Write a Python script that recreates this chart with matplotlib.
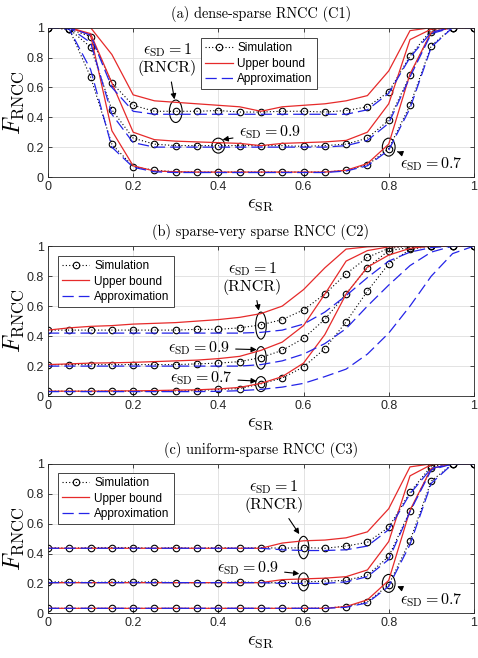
import numpy as np
import matplotlib
matplotlib.use("Agg")
import matplotlib.pyplot as plt
from matplotlib.patches import Ellipse

plt.rcParams['mathtext.fontset'] = 'cm'
plt.rcParams['font.family'] = ['Liberation Sans', 'DejaVu Sans']
plt.rcParams['axes.formatter.use_mathtext'] = True

# eps_SR grid
x = [0.00, 0.05, 0.10, 0.15, 0.20, 0.25, 0.30, 0.35, 0.40, 0.45, 0.50,
     0.55, 0.60, 0.65, 0.70, 0.75, 0.80, 0.85, 0.90, 0.95, 1.00]

# (a) dense-sparse RNCC (C1)
sim_a_10 = [1.00, 0.99, 0.94, 0.63, 0.48, 0.44, 0.44, 0.44, 0.445, 0.435, 0.435,
            0.44, 0.44, 0.435, 0.445, 0.47, 0.57, 0.81, 0.985, 1.00, 1.00]
sim_a_09 = [1.00, 0.99, 0.87, 0.45, 0.26, 0.22, 0.21, 0.21, 0.21, 0.21, 0.21,
            0.21, 0.205, 0.21, 0.22, 0.26, 0.38, 0.68, 0.97, 1.00, 1.00]
sim_a_07 = [1.00, 0.99, 0.67, 0.22, 0.07, 0.045, 0.035, 0.033, 0.033, 0.033, 0.033,
            0.033, 0.033, 0.033, 0.045, 0.08, 0.19, 0.48, 0.88, 1.00, 1.00]
ub_a_10 = [1.00, 1.00, 1.00, 0.82, 0.55, 0.51, 0.50, 0.49, 0.48, 0.47, 0.44,
           0.47, 0.48, 0.49, 0.51, 0.545, 0.71, 0.98, 1.00, 1.00, 1.00]
ub_a_09 = [1.00, 1.00, 0.96, 0.63, 0.30, 0.25, 0.24, 0.235, 0.23, 0.225, 0.21,
           0.225, 0.23, 0.235, 0.245, 0.30, 0.49, 0.92, 0.99, 1.00, 1.00]
ub_a_07 = [1.00, 1.00, 0.95, 0.31, 0.075, 0.04, 0.035, 0.033, 0.033, 0.033, 0.033,
           0.033, 0.033, 0.033, 0.045, 0.09, 0.22, 0.69, 0.97, 1.00, 1.00]
ap_a_10 = [1.00, 1.00, 0.95, 0.60, 0.44, 0.42, 0.42, 0.42, 0.42, 0.42, 0.42,
           0.42, 0.42, 0.42, 0.42, 0.45, 0.56, 0.80, 0.97, 1.00, 1.00]
ap_a_09 = [1.00, 1.00, 0.90, 0.42, 0.23, 0.20, 0.20, 0.20, 0.20, 0.20, 0.20,
           0.20, 0.20, 0.20, 0.21, 0.245, 0.36, 0.67, 0.96, 1.00, 1.00]
ap_a_07 = [1.00, 0.99, 0.72, 0.20, 0.065, 0.035, 0.03, 0.03, 0.03, 0.03, 0.03,
           0.03, 0.03, 0.03, 0.04, 0.075, 0.18, 0.46, 0.87, 1.00, 1.00]

# (b) sparse-very sparse RNCC (C2)
sim_b_10 = [0.44, 0.44, 0.44, 0.44, 0.44, 0.44, 0.44, 0.445, 0.445, 0.455, 0.475,
            0.51, 0.575, 0.68, 0.815, 0.925, 0.985, 1.00, 1.00, 1.00, 1.00]
sim_b_09 = [0.21, 0.21, 0.21, 0.21, 0.21, 0.21, 0.21, 0.215, 0.22, 0.23, 0.257,
            0.305, 0.385, 0.512, 0.682, 0.857, 0.97, 0.99, 1.00, 1.00, 1.00]
sim_b_07 = [0.033, 0.033, 0.033, 0.033, 0.033, 0.033, 0.035, 0.037, 0.045, 0.05, 0.082,
            0.12, 0.195, 0.316, 0.495, 0.70, 0.882, 0.978, 1.00, 1.00, 1.00]
ub_b_10 = [0.44, 0.455, 0.465, 0.47, 0.48, 0.485, 0.49, 0.50, 0.51, 0.525, 0.55,
           0.60, 0.71, 0.855, 0.98, 0.995, 1.00, 1.00, 1.00, 1.00, 1.00]
ub_b_09 = [0.21, 0.215, 0.22, 0.222, 0.225, 0.23, 0.235, 0.24, 0.25, 0.265, 0.305,
           0.36, 0.47, 0.68, 0.90, 0.97, 0.995, 1.00, 1.00, 1.00, 1.00]
ub_b_07 = [0.033, 0.033, 0.033, 0.035, 0.035, 0.037, 0.04, 0.042, 0.048, 0.058, 0.085,
           0.13, 0.22, 0.41, 0.68, 0.86, 0.94, 0.985, 1.00, 1.00, 1.00]
ap_b_10 = [0.42, 0.42, 0.42, 0.42, 0.42, 0.42, 0.42, 0.42, 0.42, 0.42, 0.425,
           0.44, 0.48, 0.56, 0.67, 0.79, 0.90, 0.96, 0.99, 1.00, 1.00]
ap_b_09 = [0.20, 0.20, 0.20, 0.20, 0.20, 0.20, 0.20, 0.20, 0.20, 0.20, 0.21,
           0.235, 0.28, 0.35, 0.45, 0.60, 0.74, 0.87, 0.96, 1.00, 1.00]
ap_b_07 = [0.03, 0.03, 0.03, 0.03, 0.03, 0.03, 0.03, 0.03, 0.032, 0.036, 0.045,
           0.06, 0.085, 0.13, 0.18, 0.28, 0.42, 0.60, 0.80, 0.95, 1.00]

# (c) uniform-sparse RNCC (C3)
sim_c_10 = [0.44, 0.435, 0.44, 0.44, 0.44, 0.435, 0.44, 0.435, 0.44, 0.435, 0.44,
            0.435, 0.44, 0.435, 0.45, 0.475, 0.575, 0.81, 0.985, 1.00, 1.00]
sim_c_09 = [0.21, 0.21, 0.205, 0.21, 0.21, 0.21, 0.205, 0.205, 0.205, 0.21, 0.205,
            0.205, 0.21, 0.215, 0.22, 0.255, 0.38, 0.685, 0.97, 1.00, 1.00]
sim_c_07 = [0.033, 0.033, 0.033, 0.033, 0.033, 0.033, 0.033, 0.033, 0.033, 0.033, 0.033,
            0.033, 0.033, 0.035, 0.045, 0.075, 0.19, 0.485, 0.885, 1.00, 1.00]
ub_c_10 = [0.435, 0.435, 0.435, 0.435, 0.435, 0.435, 0.435, 0.435, 0.435, 0.435, 0.435,
           0.47, 0.485, 0.49, 0.505, 0.545, 0.70, 0.98, 1.00, 1.00, 1.00]
ub_c_09 = [0.205, 0.205, 0.205, 0.205, 0.205, 0.205, 0.205, 0.205, 0.205, 0.205, 0.205,
           0.225, 0.23, 0.235, 0.245, 0.29, 0.48, 0.92, 0.995, 1.00, 1.00]
ub_c_07 = [0.033, 0.033, 0.033, 0.033, 0.033, 0.033, 0.033, 0.033, 0.033, 0.033, 0.033,
           0.033, 0.033, 0.033, 0.045, 0.09, 0.22, 0.69, 0.97, 1.00, 1.00]
ap_c_10 = [0.435, 0.435, 0.435, 0.435, 0.435, 0.435, 0.435, 0.435, 0.435, 0.435, 0.435,
           0.425, 0.42, 0.42, 0.425, 0.45, 0.56, 0.80, 0.97, 1.00, 1.00]
ap_c_09 = [0.205, 0.205, 0.205, 0.205, 0.205, 0.205, 0.205, 0.205, 0.205, 0.205, 0.205,
           0.20, 0.20, 0.20, 0.21, 0.245, 0.36, 0.68, 0.96, 1.00, 1.00]
ap_c_07 = [0.033, 0.033, 0.033, 0.033, 0.033, 0.033, 0.033, 0.033, 0.033, 0.033, 0.033,
           0.033, 0.033, 0.033, 0.04, 0.07, 0.18, 0.46, 0.87, 1.00, 1.00]

titles = ["(a) dense-sparse RNCC (C1)",
          "(b) sparse-very sparse RNCC (C2)",
          "(c) uniform-sparse RNCC (C3)"]
ticks = [0, 0.2, 0.4, 0.6, 0.8, 1]
tick_labels = ["0", "0.2", "0.4", "0.6", "0.8", "1"]

panels = [
    (sim_a_10, sim_a_09, sim_a_07, ub_a_10, ub_a_09, ub_a_07, ap_a_10, ap_a_09, ap_a_07),
    (sim_b_10, sim_b_09, sim_b_07, ub_b_10, ub_b_09, ub_b_07, ap_b_10, ap_b_09, ap_b_07),
    (sim_c_10, sim_c_09, sim_c_07, ub_c_10, ub_c_09, ub_c_07, ap_c_10, ap_c_09, ap_c_07),
]

# annotations: (text, text xy, arrow tip, ellipse centre, ellipse w, h)
notes = [
    [("$\\epsilon_{\\rm SD}=1$\n(RNCR)", (0.28, 0.79), (0.297, 0.52), (0.30, 0.44), 0.03, 0.15),
     ("$\\epsilon_{\\rm SD}=0.9$", (0.52, 0.30), (0.41, 0.25), (0.40, 0.21), 0.03, 0.10),
     ("$\\epsilon_{\\rm SD}=0.7$", (0.90, 0.085), (0.82, 0.17), (0.80, 0.20), 0.03, 0.12)],
    [("$\\epsilon_{\\rm SD}=1$\n(RNCR)", (0.48, 0.79), (0.495, 0.57), (0.50, 0.47), 0.025, 0.18),
     ("$\\epsilon_{\\rm SD}=0.9$", (0.355, 0.32), (0.49, 0.31), (0.50, 0.255), 0.025, 0.15),
     ("$\\epsilon_{\\rm SD}=0.7$", (0.36, 0.12), (0.49, 0.10), (0.50, 0.08), 0.025, 0.10)],
    [("$\\epsilon_{\\rm SD}=1$\n(RNCR)", (0.53, 0.785), (0.59, 0.53), (0.60, 0.44), 0.025, 0.15),
     ("$\\epsilon_{\\rm SD}=0.9$", (0.47, 0.30), (0.59, 0.265), (0.60, 0.21), 0.025, 0.12),
     ("$\\epsilon_{\\rm SD}=0.7$", (0.90, 0.085), (0.82, 0.18), (0.80, 0.20), 0.03, 0.12)],
]
legend_pos = [(0.36, 0.93), (0.024, 0.935), (0.024, 0.94)]
axes_pos = [[0.1004, 0.731, 0.891, 0.227],
            [0.1004, 0.398, 0.891, 0.228],
            [0.1004, 0.068, 0.891, 0.227]]

red = '#e62a2a'
blue = '#2424e8'

fig = plt.figure(figsize=(4.78, 6.58), dpi=100)

for k in range(3):
    ax = fig.add_axes(axes_pos[k])
    s10, s09, s07, u10, u09, u07, a10, a09, a07 = panels[k]
    for s in (s10, s09, s07):
        hs, = ax.plot(x, s, color='k', linestyle=(0, (1, 2)), linewidth=0.8,
                      marker='o', markersize=4.7, markerfacecolor='none',
                      markeredgewidth=0.8, label='Simulation')
    for u in (u10, u09, u07):
        hu, = ax.plot(x, u, color=red, linewidth=0.9, label='Upper bound')
    for a in (a10, a09, a07):
        ha, = ax.plot(x, a, color=blue, linewidth=0.9, linestyle=(0, (9, 4)),
                      label='Approximation')

    ax.set_xlim(0, 1)
    ax.set_ylim(0, 1)
    ax.set_xticks(ticks)
    ax.set_xticklabels(tick_labels)
    ax.set_yticks(ticks)
    ax.set_yticklabels(tick_labels)
    ax.tick_params(direction='in', length=3, width=0.6, labelsize=9,
                   top=True, right=True, pad=3, colors='#262626')
    ax.grid(True, color='#dedede', linewidth=0.6)
    ax.set_axisbelow(True)
    for sp in ax.spines.values():
        sp.set_linewidth(0.6)
        sp.set_color('#262626')

    ax.set_title(titles[k], fontfamily='cmr10', fontsize=10.3, pad=7)
    ax.set_ylabel("$F_{\\rm RNCC}$", fontsize=17, labelpad=0)
    ax.set_xlabel("$\\epsilon_{\\rm SR}$", fontsize=14, labelpad=3)

    for txt, txy, tip, ec, ew, eh in notes[k]:
        ax.add_patch(Ellipse(ec, ew, eh, fill=False, edgecolor='k', linewidth=0.8))
        ax.annotate(txt, xy=tip, xytext=txy, ha='center', va='center',
                    fontfamily='cmr10', fontsize=11.5, linespacing=1.1,
                    arrowprops=dict(arrowstyle='-|>', color='k', lw=0.8,
                                    mutation_scale=8, shrinkA=2, shrinkB=0))

    leg = ax.legend([hs, hu, ha], ['Simulation', 'Upper bound', 'Approximation'],
                    loc='upper left', bbox_to_anchor=legend_pos[k], borderaxespad=0,
                    fontsize=8.5, handlelength=2.3, handletextpad=0.4,
                    labelspacing=0.3, fancybox=False, framealpha=1,
                    edgecolor='#262626', borderpad=0.35)
    leg.get_frame().set_linewidth(0.6)

fig.savefig("out.png", dpi=100)
